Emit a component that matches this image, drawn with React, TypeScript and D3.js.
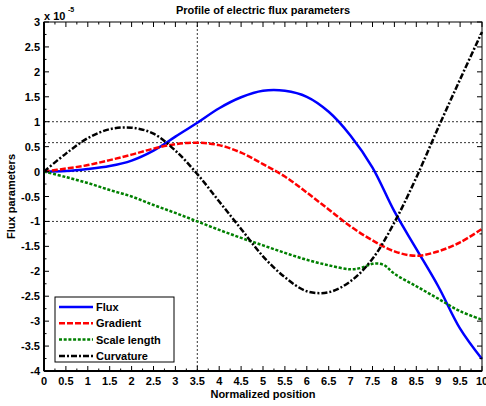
import { line, curveCatmullRom, scaleLinear, range } from "d3";

const xs = [0, 0.5, 1, 1.5, 2, 2.5, 3, 3.5, 4, 4.5, 5, 5.5, 6, 6.5, 7, 7.5, 8, 8.5, 9, 9.5, 10];
const flux = [0, 0.01, 0.05, 0.11, 0.22, 0.42, 0.7, 0.98, 1.27, 1.49, 1.62, 1.62, 1.5, 1.2, 0.72, 0.08, -0.8, -1.55, -2.3, -3.15, -3.76];
const gradient = [0, 0.06, 0.13, 0.23, 0.34, 0.46, 0.55, 0.58, 0.53, 0.38, 0.15, -0.1, -0.42, -0.76, -1.1, -1.38, -1.6, -1.69, -1.6, -1.42, -1.15];
const scaleLengthX = [0, 0.5, 1, 1.5, 2, 2.5, 3, 3.5, 4, 4.5, 5, 5.5, 6, 6.5, 7, 7.25, 7.5, 7.75, 8, 8.5, 9, 9.5, 10];
const scaleLength = [0, -0.11, -0.23, -0.37, -0.5, -0.67, -0.83, -1.0, -1.17, -1.33, -1.48, -1.63, -1.77, -1.88, -1.96, -1.93, -1.85, -1.87, -2.05, -2.3, -2.55, -2.8, -2.97];
const curvature = [0, 0.36, 0.67, 0.85, 0.88, 0.76, 0.42, -0.05, -0.6, -1.15, -1.7, -2.12, -2.4, -2.42, -2.2, -1.75, -1.02, -0.12, 0.88, 1.85, 2.8];

const xTicks = range(0, 10.001, 0.5);
const yTicks = range(-4, 3.001, 0.5);
const refY = [1, 0.58, 0, -1];
const refX = [3.5];

const series = [
  { name: "Flux", x: xs, y: flux, color: "#0000ff", dash: "none" },
  { name: "Gradient", x: xs, y: gradient, color: "#ff0000", dash: "6 2" },
  { name: "Scale length", x: scaleLengthX, y: scaleLength, color: "#008000", dash: "3 1.7" },
  { name: "Curvature", x: xs, y: curvature, color: "#000000", dash: "6 2 2 2" },
];

export default function App() {
  const width = 486, height = 406;
  const x = scaleLinear().domain([0, 10]).range([44, 482]);
  const y = scaleLinear().domain([-4, 3]).range([371, 22]);
  const font = "'Liberation Sans', Arial, sans-serif";
  const minorX = range(0.25, 10, 0.5);
  const minorY = range(-3.75, 3, 0.5);

  return (
    <svg width={width} height={height} style={{ position: "absolute", left: 0, top: 0 }}
      fontFamily={font} fontWeight="bold">
      <rect width={width} height={height} fill="#fff" />
      {/* reference lines */}
      {refY.map((v) => (
        <line key={"ry" + v} x1={x(0)} x2={x(10)} y1={y(v)} y2={y(v)} stroke="#000" strokeWidth={0.8} strokeDasharray="2 2" />
      ))}
      {refX.map((v) => (
        <line key={"rx" + v} x1={x(v)} x2={x(v)} y1={y(-4)} y2={y(3)} stroke="#000" strokeWidth={0.8} strokeDasharray="2 2" />
      ))}
      {/* curves */}
      {series.map((s) => {
        const pts = s.x.map((xv, i) => [xv, s.y[i]] as [number, number]);
        const d = line<[number, number]>().x((p) => x(p[0])).y((p) => y(p[1])).curve(curveCatmullRom)(pts) || "";
        return <path key={s.name} d={d} fill="none" stroke={s.color} strokeWidth={2.5} strokeDasharray={s.dash} />;
      })}
      {/* box */}
      <rect x={x(0)} y={y(3)} width={x(10) - x(0)} height={y(-4) - y(3)} fill="none" stroke="#000" strokeWidth={1} />
      <line x1={x(0)} x2={x(0)} y1={y(3)} y2={y(-4)} stroke="#000" strokeWidth={2} />
      <line x1={x(0)} x2={x(10)} y1={y(-4)} y2={y(-4)} stroke="#000" strokeWidth={2} />
      {/* x ticks */}
      {xTicks.map((t) => (
        <g key={"xt" + t}>
          <line x1={x(t)} x2={x(t)} y1={y(-4)} y2={y(-4) - 5} stroke="#000" />
          <line x1={x(t)} x2={x(t)} y1={y(3)} y2={y(3) + 5} stroke="#000" />
          <text x={x(t)} y={y(-4) + 14} textAnchor="middle" fontSize={11}>{t}</text>
        </g>
      ))}
      {minorX.map((t) => (
        <g key={"xm" + t}>
          <line x1={x(t)} x2={x(t)} y1={y(-4)} y2={y(-4) - 2.5} stroke="#000" />
          <line x1={x(t)} x2={x(t)} y1={y(3)} y2={y(3) + 2.5} stroke="#000" />
        </g>
      ))}
      {/* y ticks */}
      {yTicks.map((t) => (
        <g key={"yt" + t}>
          <line x1={x(0)} x2={x(0) + 5} y1={y(t)} y2={y(t)} stroke="#000" />
          <line x1={x(10)} x2={x(10) - 5} y1={y(t)} y2={y(t)} stroke="#000" />
          <text x={x(0) - 4} y={y(t) + 4} textAnchor="end" fontSize={11}>{t}</text>
        </g>
      ))}
      {minorY.map((t) => (
        <g key={"ym" + t}>
          <line x1={x(0)} x2={x(0) + 2.5} y1={y(t)} y2={y(t)} stroke="#000" />
          <line x1={x(10)} x2={x(10) - 2.5} y1={y(t)} y2={y(t)} stroke="#000" />
        </g>
      ))}
      {/* exponent */}
      <text x={44} y={20} fontSize={11}>x 10</text>
      <text x={68} y={12} fontSize={7}>-5</text>
      {/* title and labels */}
      <text x={263} y={14} textAnchor="middle" fontSize={11}>Profile of electric flux parameters</text>
      <text x={263} y={398} textAnchor="middle" fontSize={11}>Normalized position</text>
      <text transform={`translate(15,${y(-0.5)}) rotate(-90)`} textAnchor="middle" fontSize={11}>Flux parameters</text>
      {/* legend */}
      <g transform="translate(55,297)">
        <rect width={119} height={65} fill="#fff" stroke="#000" strokeWidth={1} />
        {series.map((s, i) => (
          <g key={"lg" + s.name} transform={`translate(0,${10 + i * 16.3})`}>
            <line x1={4} x2={38} y1={0} y2={0} stroke={s.color} strokeWidth={2.5} strokeDasharray={s.dash} />
            <text x={41} y={4} fontSize={11}>{s.name}</text>
          </g>
        ))}
      </g>
    </svg>
  );
}
